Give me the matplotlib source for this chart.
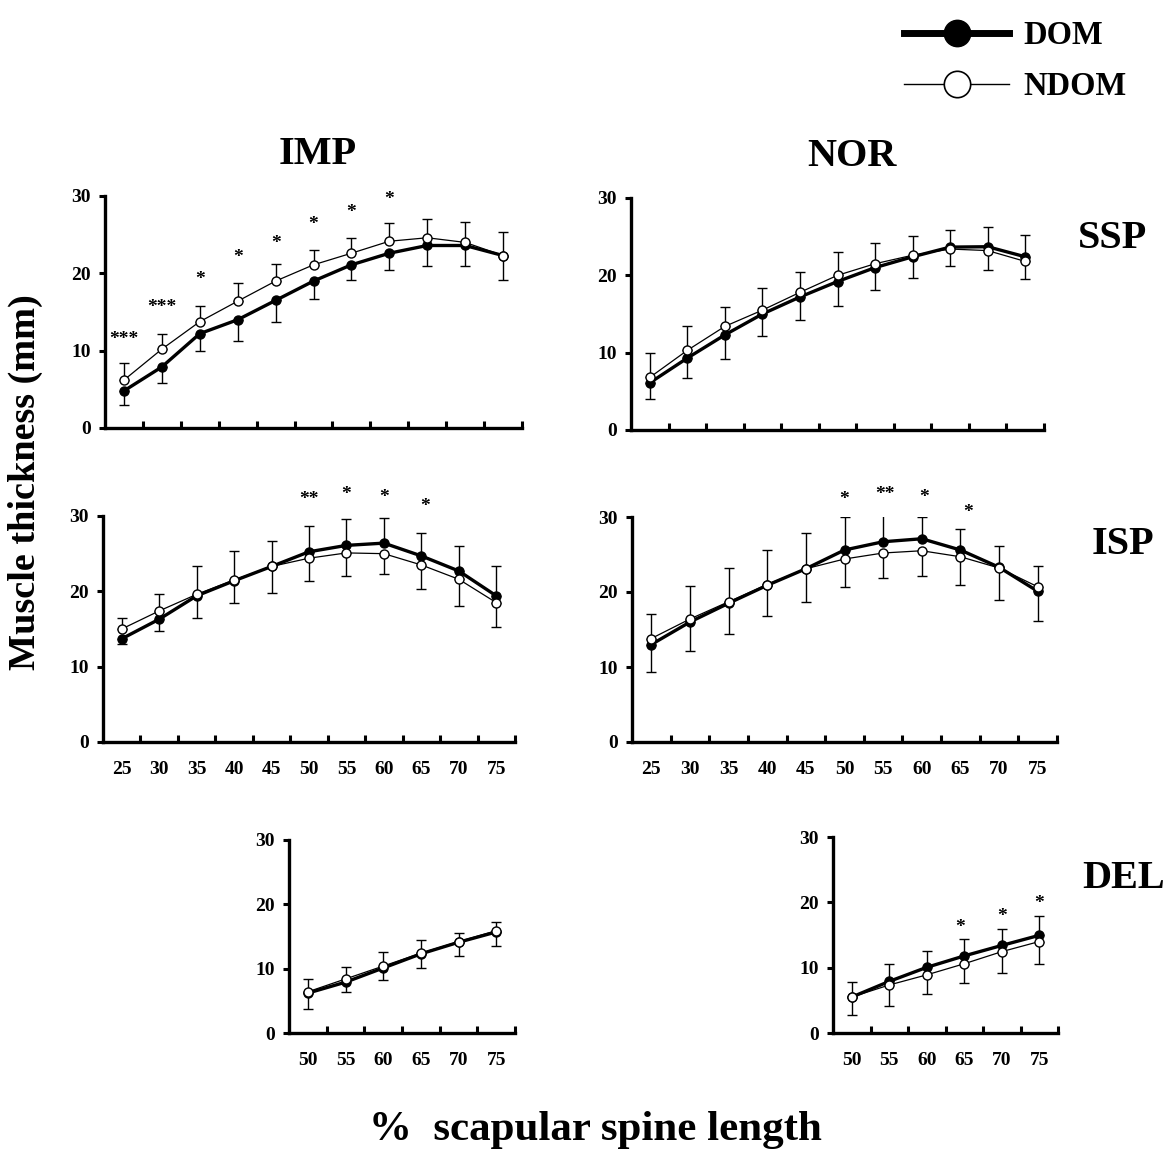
"""Muscle thickness along the scapular spine, DOM vs NDOM"""

from matplotlib import pyplot as plt
from matplotlib.lines import Line2D

plt.rcParams['font.family'] = ['Liberation Serif', 'DejaVu Serif']
plt.rcParams['font.weight'] = 'bold'

spine_pct = [25, 30, 35, 40, 45, 50, 55, 60, 65, 70, 75]
del_pct = [50, 55, 60, 65, 70, 75]

# SSP
imp_ssp_dom = [4.8, 7.9, 12.2, 14.0, 16.5, 19.0, 21.1, 22.6, 23.6, 23.6, 22.3]
imp_ssp_dom_sd = [1.8, 2.1, 2.3, 2.7, 2.8, 2.3, 2.0, 2.2, 2.7, 2.6, 3.1]
imp_ssp_ndom = [6.2, 10.2, 13.75, 16.4, 19.0, 21.1, 22.6, 24.15, 24.6, 24.0, 22.3]
imp_ssp_ndom_sd = [2.2, 2.0, 2.05, 2.3, 2.2, 1.9, 2.0, 2.35, 2.4, 2.7, 3.1]

nor_ssp_dom = [6.1, 9.3, 12.3, 15.0, 17.2, 19.2, 21.0, 22.4, 23.65, 23.7, 22.4]
nor_ssp_dom_sd = [2.1, 2.6, 3.1, 2.9, 3.0, 3.2, 2.9, 2.7, 2.15, 2.5, 2.8]
nor_ssp_ndom = [6.8, 10.3, 13.4, 15.5, 17.8, 20.0, 21.5, 22.6, 23.4, 23.2, 21.8]
nor_ssp_ndom_sd = [3.1, 3.1, 2.5, 2.9, 2.6, 3.0, 2.7, 2.5, 2.2, 2.5, 2.3]

# ISP
imp_isp_dom = [13.7, 16.3, 19.4, 21.4, 23.3, 25.25, 26.1, 26.4, 24.7, 22.7, 19.4]
imp_isp_dom_sd = [0.7, 1.6, 2.9, 2.9, 3.5, 3.45, 3.45, 3.3, 3.0, 3.35, 3.95]
imp_isp_ndom = [15.0, 17.4, 19.6, 21.5, 23.3, 24.4, 25.1, 25.0, 23.5, 21.6, 18.5]
imp_isp_ndom_sd = [1.5, 2.2, 3.75, 3.9, 3.4, 3.0, 3.1, 2.7, 3.2, 3.5, 3.2]

nor_isp_dom = [13.0, 16.0, 18.5, 20.9, 23.1, 25.6, 26.7, 27.1, 25.6, 23.3, 20.1]
nor_isp_dom_sd = [3.7, 3.9, 4.1, 4.1, 4.4, 4.4, 3.6, 2.9, 2.8, 2.9, 4.0]
nor_isp_ndom = [13.8, 16.4, 18.7, 21.0, 23.1, 24.4, 25.2, 25.5, 24.7, 23.2, 20.7]
nor_isp_ndom_sd = [3.3, 4.4, 4.5, 4.6, 4.8, 3.7, 3.3, 3.3, 3.7, 4.2, 2.8]

# DEL
imp_del_dom = [6.2, 7.9, 10.1, 12.3, 14.1, 15.7]
imp_del_dom_sd = [2.5, 1.5, 1.8, 2.2, 2.1, 2.25]
imp_del_ndom = [6.4, 8.4, 10.4, 12.4, 14.2, 15.9]
imp_del_ndom_sd = [2.0, 1.8, 2.2, 2.0, 1.3, 1.3]

nor_del_dom = [5.5, 7.9, 10.05, 11.8, 13.4, 14.95]
nor_del_dom_sd = [2.8, 2.6, 2.45, 2.6, 2.5, 2.95]
nor_del_ndom = [5.5, 7.35, 8.9, 10.6, 12.45, 14.0]
nor_del_ndom_sd = [2.3, 3.15, 2.9, 2.95, 3.25, 3.4]

# significance marks: (category index, text, height, x shift)
imp_ssp_stars = [(0, '***', 12.0, 0), (1, '***', 16.2, 0), (2, '*', 19.85, 0),
                 (3, '*', 22.6, 0), (4, '*', 24.5, 0), (5, '*', 26.9, 0),
                 (6, '*', 28.4, 0), (7, '*', 30.1, 0)]
imp_isp_stars = [(5, '**', 32.8, 0), (6, '*', 33.45, 0), (7, '*', 33.0, 0),
                 (8, '*', 31.9, 0.1)]
nor_isp_stars = [(5, '*', 32.9, 0), (6, '**', 33.6, 0.05), (7, '*', 33.2, 0.05),
                 (8, '*', 31.2, 0.2)]
nor_del_stars = [(3, '*', 16.8, -0.1), (4, '*', 18.6, 0), (5, '*', 20.5, 0)]


def draw_panel(ax, labels, dom, dom_sd, ndom, ndom_sd, stars, show_labels):
    """Two lines with one-sided SD bars (higher series up, lower down)"""
    x = list(range(len(labels)))

    dom_lo = [0 if d > n else s for d, n, s in zip(dom, ndom, dom_sd)]
    dom_hi = [s if d > n else 0 for d, n, s in zip(dom, ndom, dom_sd)]
    ndom_lo = [s if d > n else 0 for d, n, s in zip(dom, ndom, ndom_sd)]
    ndom_hi = [0 if d > n else s for d, n, s in zip(dom, ndom, ndom_sd)]

    ax.errorbar(x, dom, yerr=[dom_lo, dom_hi], fmt='none', ecolor='black',
                elinewidth=1.0, capsize=3.5, capthick=1.0, zorder=2)
    ax.errorbar(x, ndom, yerr=[ndom_lo, ndom_hi], fmt='none', ecolor='black',
                elinewidth=1.0, capsize=3.5, capthick=1.0, zorder=2)
    ax.plot(x, dom, color='black', lw=2.4, marker='o', ms=6.5,
            mfc='black', mec='black', zorder=3)
    ax.plot(x, ndom, color='black', lw=0.9, marker='o', ms=6.5,
            mfc='white', mec='black', mew=1.0, zorder=4)

    for i, txt, h, dx in stars:
        ax.annotate(txt, (i + dx, h), xytext=(0, -6.5), textcoords='offset points',
                    ha='center', va='baseline', fontsize=14, fontweight='bold',
                    annotation_clip=False)

    ax.set_xlim(-0.5, len(labels) - 0.5)
    ax.set_ylim(0, 30)
    ax.set_yticks([0, 10, 20, 30])
    ax.set_xticks([i + 0.5 for i in x])
    ax.set_xticklabels([])
    ax.set_xticks(x, minor=True)
    ax.set_xticklabels([str(v) for v in labels] if show_labels else [],
                       minor=True)
    ax.tick_params(axis='x', which='major', direction='in', length=5,
                   width=2.2)
    ax.tick_params(axis='x', which='minor', length=0, pad=14, labelsize=14)
    ax.tick_params(axis='y', direction='out', length=4, width=2.2,
                   labelsize=14, pad=6)
    for lab in ax.get_xticklabels(minor=True) + ax.get_yticklabels():
        lab.set_fontweight('bold')

    for side in ['top', 'right']:
        ax.spines[side].set_visible(False)
    for side in ['left', 'bottom']:
        ax.spines[side].set_linewidth(2.4)


fig = plt.figure(figsize=(11.66, 11.53), dpi=100)

W, H = 1166, 1153


def px_axes(x0, y0, x1, y1):
    return fig.add_axes([x0 / W, 1 - y1 / H, (x1 - x0) / W, (y1 - y0) / H])


ax1 = px_axes(105, 196, 522, 428)
ax2 = px_axes(631, 198, 1044, 430)
ax3 = px_axes(103, 516, 515, 742)
ax4 = px_axes(632, 517, 1057, 742)
ax5 = px_axes(289, 840, 515, 1033)
ax6 = px_axes(833, 837, 1058, 1033)

draw_panel(ax1, spine_pct, imp_ssp_dom, imp_ssp_dom_sd, imp_ssp_ndom,
           imp_ssp_ndom_sd, imp_ssp_stars, False)
draw_panel(ax2, spine_pct, nor_ssp_dom, nor_ssp_dom_sd, nor_ssp_ndom,
           nor_ssp_ndom_sd, [], False)
draw_panel(ax3, spine_pct, imp_isp_dom, imp_isp_dom_sd, imp_isp_ndom,
           imp_isp_ndom_sd, imp_isp_stars, True)
draw_panel(ax4, spine_pct, nor_isp_dom, nor_isp_dom_sd, nor_isp_ndom,
           nor_isp_ndom_sd, nor_isp_stars, True)
draw_panel(ax5, del_pct, imp_del_dom, imp_del_dom_sd, imp_del_ndom,
           imp_del_ndom_sd, [], True)
draw_panel(ax6, del_pct, nor_del_dom, nor_del_dom_sd, nor_del_ndom,
           nor_del_ndom_sd, nor_del_stars, True)

# column / row headings
fig.text(318 / W, 1 - 155 / H, 'IMP', ha='center', va='center',
         fontsize=29, fontweight='bold')
fig.text(852 / W, 1 - 157 / H, 'NOR', ha='center', va='center',
         fontsize=29, fontweight='bold')
fig.text(1112 / W, 1 - 238 / H, 'SSP', ha='center', va='center',
         fontsize=29, fontweight='bold')
fig.text(1123 / W, 1 - 545 / H, 'ISP', ha='center', va='center',
         fontsize=29, fontweight='bold')
fig.text(1124 / W, 1 - 878 / H, 'DEL', ha='center', va='center',
         fontsize=29, fontweight='bold')

fig.text(25 / W, 1 - 482 / H, 'Muscle thickness (mm)', rotation=90,
         ha='center', va='center', fontsize=27.5, fontweight='bold')
fig.text(595 / W, 1 - 1130 / H, '%  scapular spine length', ha='center',
         va='center', fontsize=31, fontweight='bold')

dom_handle = Line2D([], [], color='black', lw=5, marker='o', ms=19,
                    mfc='black', mec='black')
ndom_handle = Line2D([], [], color='black', lw=1.0, marker='o', ms=19,
                     mfc='white', mec='black', mew=1.2)
leg = fig.legend([dom_handle, ndom_handle], ['DOM', 'NDOM'],
                 loc='upper left', bbox_to_anchor=(875 / W, 1 + 9 / H),
                 frameon=False, fontsize=23.5, handlelength=3.2,
                 handletextpad=0.45, labelspacing=0.6)
for t in leg.get_texts():
    t.set_fontweight('bold')

fig.savefig('out.png', dpi=100)
